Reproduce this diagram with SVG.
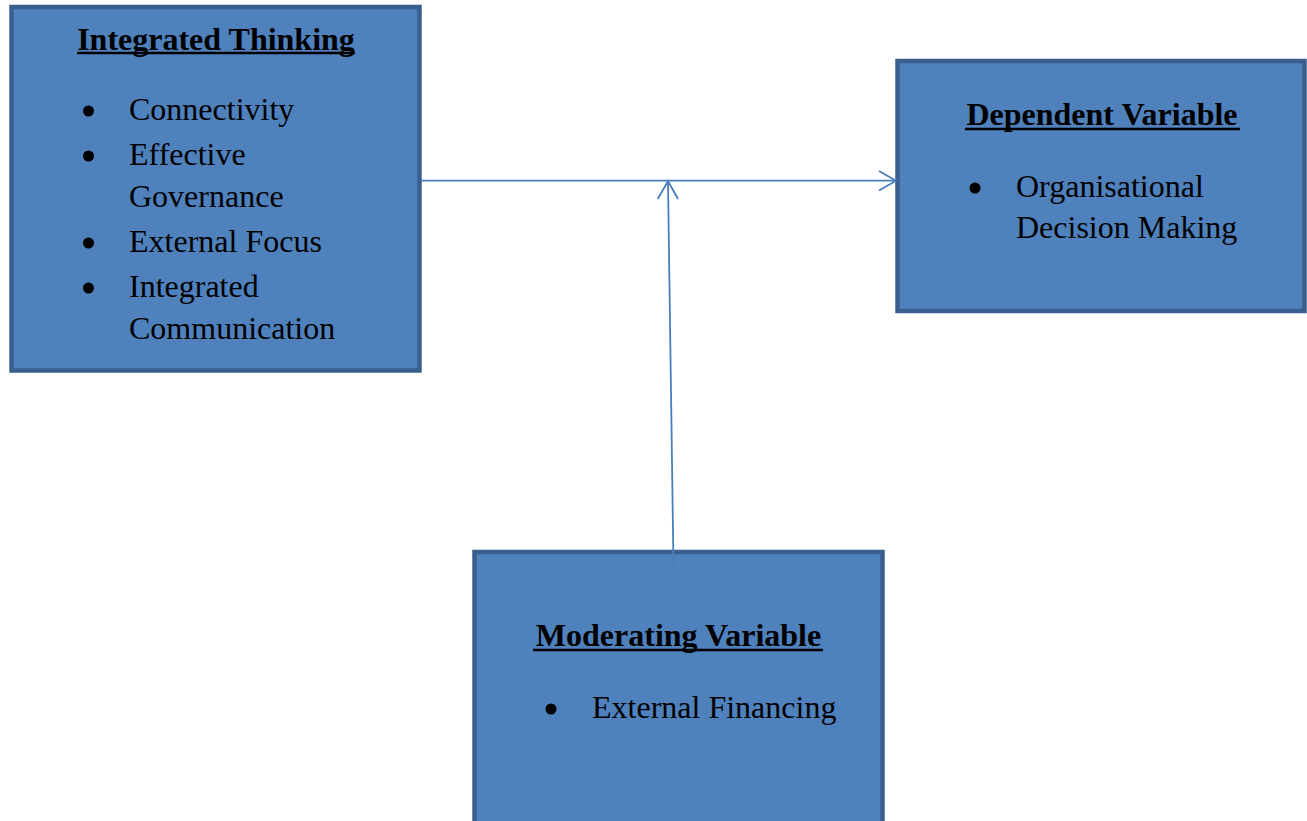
<svg xmlns="http://www.w3.org/2000/svg" width="1307" height="821" viewBox="0 0 1307 821">
<style>
.box{fill:#4f81bd;stroke:#3a5f8e;stroke-width:4.5}
.t{font-family:"Liberation Serif","Times New Roman",serif;font-size:32px;fill:#000}
.h{font-weight:bold;text-anchor:middle}
.ul{stroke:#000;stroke-width:2.6}
.conn{stroke:#4a7ebb;stroke-width:1.8;fill:none}
</style>
<rect width="1307" height="821" fill="#fff"/>
<g id="integrated-thinking">
<rect class="box" x="11.5" y="7" width="408" height="363.5"/>
<text class="t h" x="216" y="50">Integrated Thinking</text>
<line class="ul" x1="77" y1="53" x2="355" y2="53"/>
<circle cx="88.5" cy="111" r="5.5"/>
<circle cx="88.5" cy="156" r="5.5"/>
<circle cx="88.5" cy="243" r="5.5"/>
<circle cx="88.5" cy="288" r="5.5"/>
<text class="t" x="129" y="120">Connectivity</text>
<text class="t" x="129" y="165">Effective</text>
<text class="t" x="129" y="207">Governance</text>
<text class="t" x="129" y="252">External Focus</text>
<text class="t" x="129" y="297">Integrated</text>
<text class="t" x="129" y="339">Communication</text>
</g>
<g id="dependent-variable">
<rect class="box" x="897.5" y="61" width="407" height="250"/>
<text class="t h" x="1102" y="125">Dependent Variable</text>
<line class="ul" x1="965" y1="129" x2="1240" y2="129"/>
<circle cx="975" cy="188" r="5.5"/>
<text class="t" x="1016" y="197">Organisational</text>
<text class="t" x="1016" y="238">Decision Making</text>
</g>
<g id="moderating-variable">
<rect class="box" x="474.5" y="552" width="408" height="300"/>
<text class="t h" x="678.5" y="646">Moderating Variable</text>
<line class="ul" x1="533" y1="650" x2="823" y2="650"/>
<circle cx="551" cy="709" r="5.5"/>
<text class="t" x="592" y="718">External Financing</text>
</g>
<g id="connectors">
<line class="conn" x1="421" y1="180.7" x2="895" y2="180.7"/>
<polyline class="conn" points="879,171 896,180.7 879,190.5"/>
<line class="conn" x1="673.5" y1="566" x2="668" y2="182"/>
<polyline class="conn" points="657.7,199 668,181 678,199"/>
</g>
</svg>
